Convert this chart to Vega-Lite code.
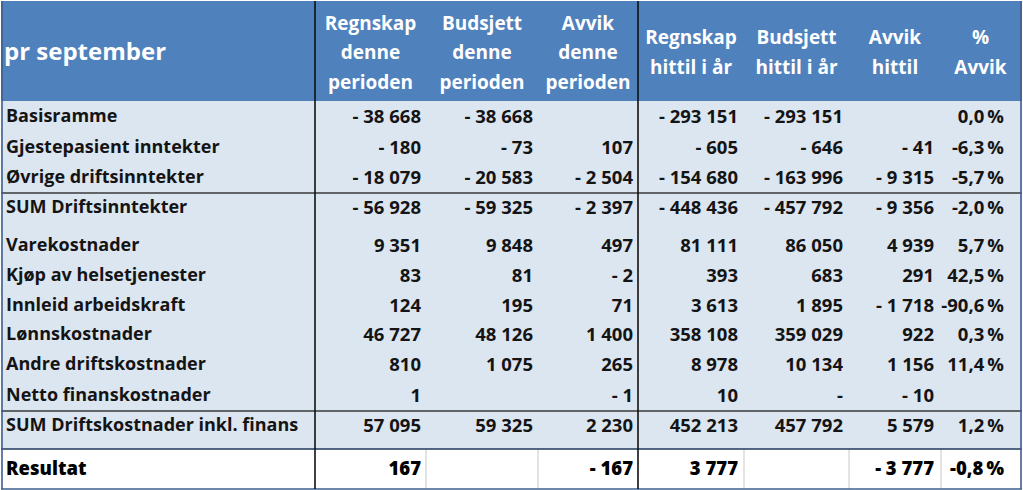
{
  "$schema": "https://vega.github.io/schema/vega-lite/v6.json",
  "width": 1023,
  "height": 490,
  "autosize": {"type": "fit", "contains": "padding"},
  "padding": 0,
  "background": "#FFFFFF",
  "config": {"view": {"stroke": null}, "font": "Open Sans"},
  "resolve": {"scale": {"x": "independent", "y": "independent"}},
  "datasets": {
    "bands": [
      {"part": "header", "y0": 0, "y1": 1},
      {"part": "body", "y0": 1, "y1": 12},
      {"part": "result", "y0": 12, "y1": 13}
    ],
    "hlines": [
      {"b": 4, "kind": "dark"},
      {"b": 11, "kind": "dark"},
      {"b": 12, "kind": "navy"},
      {"b": 13, "kind": "blue"}
    ],
    "vlines": [
      {"b": 0, "kind": "blue"},
      {"b": 1, "kind": "black"},
      {"b": 4, "kind": "black"},
      {"b": 8, "kind": "blue"}
    ],
    "gridres": [{"b": 2}, {"b": 3}, {"b": 5}, {"b": 6}, {"b": 7}],
    "heads": [
      {"c": 1, "n": 3, "t": ["Regnskap", "denne", "perioden"]},
      {"c": 2, "n": 3, "t": ["Budsjett", "denne", "perioden"]},
      {"c": 3, "n": 3, "t": ["Avvik", "denne", "perioden"]},
      {"c": 4, "n": 2, "t": ["Regnskap", "hittil i år"]},
      {"c": 5, "n": 2, "t": ["Budsjett", "hittil i år"]},
      {"c": 6, "n": 2, "t": ["Avvik", "hittil"]},
      {"c": 7, "n": 2, "t": ["%", "Avvik"]}
    ],
    "cells": [
      {"r": 0, "c": 0, "t": "pr september"},
      {"r": 1, "c": 0, "t": "Basisramme"},
      {"r": 1, "c": 1, "t": "- 38 668"},
      {"r": 1, "c": 2, "t": "- 38 668"},
      {"r": 1, "c": 4, "t": "- 293 151"},
      {"r": 1, "c": 5, "t": "- 293 151"},
      {"r": 1, "c": 7, "t": "0,0\u2009%"},
      {"r": 2, "c": 0, "t": "Gjestepasient inntekter"},
      {"r": 2, "c": 1, "t": "- 180"},
      {"r": 2, "c": 2, "t": "- 73"},
      {"r": 2, "c": 3, "t": "107"},
      {"r": 2, "c": 4, "t": "- 605"},
      {"r": 2, "c": 5, "t": "- 646"},
      {"r": 2, "c": 6, "t": "- 41"},
      {"r": 2, "c": 7, "t": "-6,3\u2009%"},
      {"r": 3, "c": 0, "t": "Øvrige driftsinntekter"},
      {"r": 3, "c": 1, "t": "- 18 079"},
      {"r": 3, "c": 2, "t": "- 20 583"},
      {"r": 3, "c": 3, "t": "- 2 504"},
      {"r": 3, "c": 4, "t": "- 154 680"},
      {"r": 3, "c": 5, "t": "- 163 996"},
      {"r": 3, "c": 6, "t": "- 9 315"},
      {"r": 3, "c": 7, "t": "-5,7\u2009%"},
      {"r": 4, "c": 0, "t": "SUM Driftsinntekter"},
      {"r": 4, "c": 1, "t": "- 56 928"},
      {"r": 4, "c": 2, "t": "- 59 325"},
      {"r": 4, "c": 3, "t": "- 2 397"},
      {"r": 4, "c": 4, "t": "- 448 436"},
      {"r": 4, "c": 5, "t": "- 457 792"},
      {"r": 4, "c": 6, "t": "- 9 356"},
      {"r": 4, "c": 7, "t": "-2,0\u2009%"},
      {"r": 5, "c": 0, "t": "Varekostnader"},
      {"r": 5, "c": 1, "t": "9 351"},
      {"r": 5, "c": 2, "t": "9 848"},
      {"r": 5, "c": 3, "t": "497"},
      {"r": 5, "c": 4, "t": "81 111"},
      {"r": 5, "c": 5, "t": "86 050"},
      {"r": 5, "c": 6, "t": "4 939"},
      {"r": 5, "c": 7, "t": "5,7\u2009%"},
      {"r": 6, "c": 0, "t": "Kjøp av helsetjenester"},
      {"r": 6, "c": 1, "t": "83"},
      {"r": 6, "c": 2, "t": "81"},
      {"r": 6, "c": 3, "t": "- 2"},
      {"r": 6, "c": 4, "t": "393"},
      {"r": 6, "c": 5, "t": "683"},
      {"r": 6, "c": 6, "t": "291"},
      {"r": 6, "c": 7, "t": "42,5\u2009%"},
      {"r": 7, "c": 0, "t": "Innleid arbeidskraft"},
      {"r": 7, "c": 1, "t": "124"},
      {"r": 7, "c": 2, "t": "195"},
      {"r": 7, "c": 3, "t": "71"},
      {"r": 7, "c": 4, "t": "3 613"},
      {"r": 7, "c": 5, "t": "1 895"},
      {"r": 7, "c": 6, "t": "- 1 718"},
      {"r": 7, "c": 7, "t": "-90,6\u2009%"},
      {"r": 8, "c": 0, "t": "Lønnskostnader"},
      {"r": 8, "c": 1, "t": "46 727"},
      {"r": 8, "c": 2, "t": "48 126"},
      {"r": 8, "c": 3, "t": "1 400"},
      {"r": 8, "c": 4, "t": "358 108"},
      {"r": 8, "c": 5, "t": "359 029"},
      {"r": 8, "c": 6, "t": "922"},
      {"r": 8, "c": 7, "t": "0,3\u2009%"},
      {"r": 9, "c": 0, "t": "Andre driftskostnader"},
      {"r": 9, "c": 1, "t": "810"},
      {"r": 9, "c": 2, "t": "1 075"},
      {"r": 9, "c": 3, "t": "265"},
      {"r": 9, "c": 4, "t": "8 978"},
      {"r": 9, "c": 5, "t": "10 134"},
      {"r": 9, "c": 6, "t": "1 156"},
      {"r": 9, "c": 7, "t": "11,4\u2009%"},
      {"r": 10, "c": 0, "t": "Netto finanskostnader"},
      {"r": 10, "c": 1, "t": "1"},
      {"r": 10, "c": 3, "t": "- 1"},
      {"r": 10, "c": 4, "t": "10"},
      {"r": 10, "c": 5, "t": "-\u00a0\u00a0\u00a0\u00a0\u00a0"},
      {"r": 10, "c": 6, "t": "- 10"},
      {"r": 11, "c": 0, "t": "SUM Driftskostnader inkl. finans"},
      {"r": 11, "c": 1, "t": "57 095"},
      {"r": 11, "c": 2, "t": "59 325"},
      {"r": 11, "c": 3, "t": "2 230"},
      {"r": 11, "c": 4, "t": "452 213"},
      {"r": 11, "c": 5, "t": "457 792"},
      {"r": 11, "c": 6, "t": "5 579"},
      {"r": 11, "c": 7, "t": "1,2\u2009%"},
      {"r": 12, "c": 0, "t": "Resultat"},
      {"r": 12, "c": 1, "t": "167"},
      {"r": 12, "c": 3, "t": "- 167"},
      {"r": 12, "c": 4, "t": "3 777"},
      {"r": 12, "c": 6, "t": "- 3 777"},
      {"r": 12, "c": 7, "t": "-0,8\u2009%"}
    ]
  },
  "layer": [
    {
      "data": {"name": "bands"},
      "mark": {"type": "rect"},
      "encoding": {
        "y": {"field": "y0", "type": "quantitative", "axis": null,
              "scale": {"domain": [0,1,2,3,4,5,6,7,8,9,10,11,12,13], "range": [0,100,132,162,192,230,260,290,320,349,379,410,448,488], "zero": false, "nice": false}},
        "y2": {"field": "y1"},
        "fill": {"field": "part", "type": "nominal", "legend": null,
                 "scale": {"domain": ["header", "body", "result"], "range": ["#4F81BD", "#DCE6F1", "#FFFFFF"]}}
      }
    },
    {
      "data": {"name": "gridres"},
      "mark": {"type": "rule", "stroke": "#C8C8C8", "strokeWidth": 1},
      "encoding": {
        "x": {"field": "b", "type": "quantitative", "axis": null,
              "scale": {"domain": [0,1,2,3,4,5,6,7,8], "range": [1,314,425,537,637,743,848,940,1020], "zero": false, "nice": false}},
        "y": {"datum": 12, "type": "quantitative", "axis": null,
              "scale": {"domain": [0,1,2,3,4,5,6,7,8,9,10,11,12,13], "range": [0,100,132,162,192,230,260,290,320,349,379,410,448,488], "zero": false, "nice": false}},
        "y2": {"datum": 13}
      }
    },
    {
      "data": {"name": "hlines"},
      "mark": {"type": "rule", "strokeWidth": 1.6},
      "encoding": {
        "y": {"field": "b", "type": "quantitative", "axis": null,
              "scale": {"domain": [0,1,2,3,4,5,6,7,8,9,10,11,12,13], "range": [0,100,132,162,192,230,260,290,320,349,379,410,448,488], "zero": false, "nice": false}},
        "stroke": {"field": "kind", "type": "nominal", "legend": null,
                   "scale": {"domain": ["dark", "navy", "blue", "black"], "range": ["#3A3A3A", "#22385A", "#3D5F8F", "#111111"]}}
      }
    },
    {
      "data": {"name": "vlines"},
      "mark": {"type": "rule", "strokeWidth": 1.6},
      "encoding": {
        "x": {"field": "b", "type": "quantitative", "axis": null,
              "scale": {"domain": [0,1,2,3,4,5,6,7,8], "range": [1,314,425,537,637,743,848,940,1020], "zero": false, "nice": false}},
        "stroke": {"field": "kind", "type": "nominal", "legend": null,
                   "scale": {"domain": ["dark", "navy", "blue", "black"], "range": ["#3A3A3A", "#22385A", "#3D5F8F", "#111111"]}}
      }
    },
    {
      "data": {"name": "heads"},
      "mark": {"type": "text", "align": "center", "baseline": "middle", "font": "Open Sans", "fontWeight": "bold", "fontSize": 19, "lineHeight": 29.5, "color": "#FFFFFF"},
      "encoding": {
        "x": {"field": "c", "type": "quantitative", "axis": null,
              "scale": {"domain": [1,2,3,4,5,6,7], "range": [369.5,481,587,690,795.5,894,979.5], "zero": false, "nice": false}},
        "y": {"field": "n", "type": "quantitative", "axis": null,
              "scale": {"domain": [2,3], "range": [37,22.5], "zero": false, "nice": false}},
        "text": {"field": "t"}
      }
    },
    {
      "data": {"name": "cells"},
      "transform": [{"filter": "datum.r == 0"}],
      "mark": {"type": "text", "align": "left", "baseline": "middle", "font": "Open Sans", "fontWeight": "bold", "fontSize": 24, "color": "#FFFFFF"},
      "encoding": {
        "x": {"field": "c", "type": "quantitative", "axis": null,
              "scale": {"domain": [0,1,2,3,4,5,6,7], "range": [3,420,532,632,737,842,933,1003], "zero": false, "nice": false}},
        "y": {"field": "r", "type": "quantitative", "axis": null,
              "scale": {"domain": [0,1,2,3,4,5,6,7,8,9,10,11,12], "range": [52,116,147,177,207,245,275,305,334,364,395,425,468], "zero": false, "nice": false}},
        "text": {"field": "t"}
      }
    },
    {
      "data": {"name": "cells"},
      "transform": [{"filter": "datum.r >= 1 && datum.r <= 11 && datum.c == 0"}],
      "mark": {"type": "text", "align": "left", "baseline": "middle", "font": "Open Sans", "fontWeight": "bold", "fontSize": 18, "color": "#141414"},
      "encoding": {
        "x": {"field": "c", "type": "quantitative", "axis": null,
              "scale": {"domain": [0,1,2,3,4,5,6,7], "range": [5,420,532,632,737,842,933,1003], "zero": false, "nice": false}},
        "y": {"field": "r", "type": "quantitative", "axis": null,
              "scale": {"domain": [0,1,2,3,4,5,6,7,8,9,10,11,12], "range": [52,116,147,177,207,245,275,305,334,364,395,425,468], "zero": false, "nice": false}},
        "text": {"field": "t"}
      }
    },
    {
      "data": {"name": "cells"},
      "transform": [{"filter": "datum.r >= 1 && datum.r <= 11 && datum.c > 0"}],
      "mark": {"type": "text", "align": "right", "baseline": "middle", "font": "Open Sans", "fontWeight": "bold", "fontSize": 18.5, "color": "#141414"},
      "encoding": {
        "x": {"field": "c", "type": "quantitative", "axis": null,
              "scale": {"domain": [0,1,2,3,4,5,6,7], "range": [5,420,532,632,737,842,933,1003], "zero": false, "nice": false}},
        "y": {"field": "r", "type": "quantitative", "axis": null,
              "scale": {"domain": [0,1,2,3,4,5,6,7,8,9,10,11,12], "range": [52,116,147,177,207,245,275,305,334,364,395,425,468], "zero": false, "nice": false}},
        "text": {"field": "t"}
      }
    },
    {
      "data": {"name": "cells"},
      "transform": [{"filter": "datum.r == 12 && datum.c == 0"}],
      "mark": {"type": "text", "align": "left", "baseline": "middle", "font": "Open Sans", "fontWeight": 800, "fontSize": 18.5, "color": "#000000"},
      "encoding": {
        "x": {"field": "c", "type": "quantitative", "axis": null,
              "scale": {"domain": [0,1,2,3,4,5,6,7], "range": [5,420,532,632,737,842,933,1003], "zero": false, "nice": false}},
        "y": {"field": "r", "type": "quantitative", "axis": null,
              "scale": {"domain": [0,1,2,3,4,5,6,7,8,9,10,11,12], "range": [52,116,147,177,207,245,275,305,334,364,395,425,468], "zero": false, "nice": false}},
        "text": {"field": "t"}
      }
    },
    {
      "data": {"name": "cells"},
      "transform": [{"filter": "datum.r == 12 && datum.c > 0"}],
      "mark": {"type": "text", "align": "right", "baseline": "middle", "font": "Open Sans", "fontWeight": 800, "fontSize": 18.5, "color": "#000000"},
      "encoding": {
        "x": {"field": "c", "type": "quantitative", "axis": null,
              "scale": {"domain": [0,1,2,3,4,5,6,7], "range": [5,420,532,632,737,842,933,1003], "zero": false, "nice": false}},
        "y": {"field": "r", "type": "quantitative", "axis": null,
              "scale": {"domain": [0,1,2,3,4,5,6,7,8,9,10,11,12], "range": [52,116,147,177,207,245,275,305,334,364,395,425,468], "zero": false, "nice": false}},
        "text": {"field": "t"}
      }
    }
  ]
}
